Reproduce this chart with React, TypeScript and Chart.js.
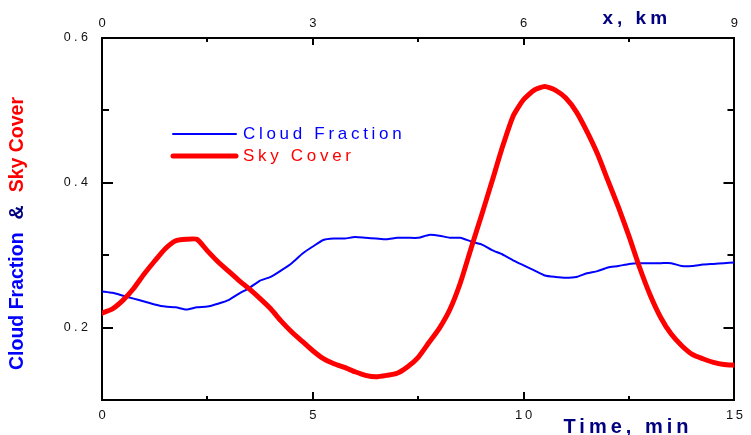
import React, { useEffect, useRef } from "react";
import { Chart, registerables } from "chart.js";

Chart.register(...registerables);

// Sampling grid for both series, minutes
const timeMin = [
  0, 0.25, 0.5, 0.75, 1, 1.25, 1.5, 1.75, 2, 2.25, 2.5, 2.75, 3, 3.25, 3.5, 3.75,
  4, 4.25, 4.5, 4.75, 5, 5.25, 5.5, 5.75, 6, 6.25, 6.5, 6.75, 7, 7.25, 7.5, 7.75,
  8, 8.25, 8.5, 8.75, 9, 9.25, 9.5, 9.75, 10, 10.25, 10.5, 10.75, 11, 11.25, 11.5, 11.75,
  12, 12.25, 12.5, 12.75, 13, 13.25, 13.5, 13.75, 14, 14.25, 14.5, 14.75, 15,
];

const cloudFraction = [
  0.250, 0.248, 0.244, 0.240, 0.236, 0.232, 0.229, 0.228, 0.225, 0.228, 0.229, 0.233, 0.238, 0.247, 0.255, 0.265,
  0.270, 0.279, 0.289, 0.302, 0.312, 0.321, 0.323, 0.323, 0.325, 0.324, 0.323, 0.322, 0.324, 0.324, 0.324, 0.328,
  0.327, 0.324, 0.324, 0.319, 0.315, 0.307, 0.301, 0.293, 0.286, 0.279, 0.272, 0.270, 0.269, 0.270, 0.275, 0.278,
  0.283, 0.285, 0.288, 0.289, 0.289, 0.289, 0.289, 0.285, 0.285, 0.287, 0.288, 0.289, 0.290,
];

const skyCover = [
  0.220, 0.226, 0.238, 0.254, 0.274, 0.292, 0.309, 0.320, 0.322, 0.322, 0.306, 0.291, 0.278, 0.265, 0.253, 0.240,
  0.226, 0.209, 0.194, 0.181, 0.168, 0.157, 0.150, 0.145, 0.139, 0.134, 0.132, 0.134, 0.137, 0.146, 0.159, 0.179,
  0.199, 0.225, 0.262, 0.309, 0.355, 0.402, 0.450, 0.492, 0.515, 0.528, 0.533, 0.528, 0.517, 0.498, 0.471, 0.440,
  0.403, 0.366, 0.326, 0.283, 0.245, 0.214, 0.191, 0.175, 0.163, 0.157, 0.152, 0.149, 0.148,
];

// Axis ticks and their labels
const yTickValues = [0.2, 0.4, 0.6];
const yTickLabels = ["0 . 2", "0 . 4", "0 . 6"];
const yMinorTicks = [0.3, 0.5];
const timeTickValues = [0, 5, 10, 15];
const timeTickLabels = ["0", "5", "1\u20090", "1\u20095"];
const timeMinorTicks = [2.5, 7.5, 12.5];
const kmTickValues = [0, 3, 6, 9];
const kmTickLabels = ["0", "3", "6", "9"];
const kmMinorTicks = [1.5, 4.5, 7.5];

const seriesNames = ["Cloud Fraction", "Sky Cover"];

const FONT = "Arial, 'Liberation Sans', Helvetica, sans-serif";
const NAVY = "#000080";
const BLUE = "#0000ff";
const RED = "#ff0000";

const toPoints = (ys: number[]) => ys.map((y, i) => ({ x: timeMin[i], y }));

function labelFor(values: number[], labels: string[]) {
  return (v: number | string) => {
    const i = values.findIndex((t) => Math.abs(t - Number(v)) < 1e-9);
    return i >= 0 ? labels[i] : "";
  };
}

function fixTicks(values: number[]) {
  return (scale: any) => {
    scale.ticks = values.map((value) => ({ value }));
  };
}

// Inward-pointing tick marks on all four sides of the frame
const frameTicks = {
  id: "frameTicks",
  afterDatasetsDraw(chart: any) {
    const { ctx, chartArea, scales } = chart;
    const { left, right, top, bottom } = chartArea;
    ctx.save();
    ctx.strokeStyle = "#000";
    ctx.lineWidth = 2;
    const seg = (x1: number, y1: number, x2: number, y2: number) => {
      ctx.beginPath();
      ctx.moveTo(x1, y1);
      ctx.lineTo(x2, y2);
      ctx.stroke();
    };
    const yMarks: [number[], number][] = [
      [yTickValues, 11],
      [yMinorTicks, 7],
    ];
    for (const [vals, len] of yMarks) {
      for (const v of vals) {
        const py = Math.round(scales.y.getPixelForValue(v));
        seg(left, py, left + len, py);
        seg(right, py, right - len, py);
      }
    }
    for (const v of timeTickValues.concat(timeMinorTicks)) {
      const px = Math.round(scales.x.getPixelForValue(v));
      const len = timeMinorTicks.includes(v) ? 4 : 8;
      seg(px, bottom, px, bottom - len);
    }
    for (const v of kmTickValues.concat(kmMinorTicks)) {
      const px = Math.round(scales.x2.getPixelForValue(v));
      const len = kmMinorTicks.includes(v) ? 4 : 7;
      seg(px, top, px, top + len);
    }
    ctx.restore();
  },
};

// Axis titles and the in-plot legend
const annotations = {
  id: "annotations",
  afterDraw(chart: any) {
    const { ctx, chartArea } = chart;
    const { left, right, top, bottom } = chartArea;
    ctx.save();

    // bottom axis title
    ctx.letterSpacing = "4px";
    ctx.font = `bold 20px ${FONT}`;
    ctx.fillStyle = NAVY;
    ctx.textAlign = "left";
    ctx.textBaseline = "alphabetic";
    ctx.fillText("Time, min", right - 171, bottom + 33);

    // top axis title
    ctx.font = `bold 19px ${FONT}`;
    ctx.fillText("x, km", right - 132, top - 14);

    // left axis title, rotated, in three colours
    ctx.letterSpacing = "0px";
    ctx.save();
    ctx.translate(18, bottom - 30);
    ctx.rotate(-Math.PI / 2);
    ctx.textBaseline = "middle";
    ctx.font = `bold 19.5px ${FONT}`;
    const parts: [string, string][] = [
      ["Cloud Fraction", BLUE],
      ["&", NAVY],
      ["Sky Cover", RED],
    ];
    let pos = 0;
    for (const [text, color] of parts) {
      ctx.fillStyle = color;
      ctx.fillText(text, pos, 0);
      pos += ctx.measureText(text).width + 13;
    }
    ctx.restore();

    // legend
    const ds = chart.data.datasets;
    const rows = [
      { y: top + 96, ds: ds[0] },
      { y: top + 118, ds: ds[1] },
    ];
    ctx.font = `17px ${FONT}`;
    ctx.letterSpacing = "3.7px";
    ctx.textBaseline = "middle";
    ctx.lineCap = "round";
    for (const row of rows) {
      ctx.strokeStyle = row.ds.borderColor;
      ctx.lineWidth = row.ds.borderWidth;
      ctx.beginPath();
      ctx.moveTo(left + 71, row.y);
      ctx.lineTo(left + 134, row.y);
      ctx.stroke();
      ctx.fillStyle = row.ds.borderColor;
      ctx.fillText(row.ds.label, left + 141, row.y);
    }
    ctx.restore();
  },
};

export default function App() {
  const canvasRef = useRef<HTMLCanvasElement | null>(null);

  useEffect(() => {
    const canvas = canvasRef.current;
    if (!canvas) return;
    const axisBorder = { display: true, color: "#000", width: 2 };
    const noGrid = { display: false, drawTicks: false };
    const chart = new Chart(canvas, {
      type: "line",
      data: {
        datasets: [
          {
            label: seriesNames[0],
            data: toPoints(cloudFraction),
            borderColor: BLUE,
            borderWidth: 2,
            pointRadius: 0,
            tension: 0.2,
            order: 1,
            xAxisID: "x",
            yAxisID: "y",
          },
          {
            label: seriesNames[1],
            data: toPoints(skyCover),
            borderColor: RED,
            borderWidth: 5,
            borderCapStyle: "round",
            borderJoinStyle: "round",
            pointRadius: 0,
            tension: 0.2,
            order: 0,
            xAxisID: "x",
            yAxisID: "y",
          },
        ],
      },
      options: {
        responsive: false,
        animation: false,
        devicePixelRatio: 1,
        layout: { padding: 0 },
        plugins: {
          legend: { display: false },
          tooltip: { enabled: false },
        },
        scales: {
          x: {
            type: "linear",
            position: "bottom",
            min: 0,
            max: 15,
            grid: noGrid,
            border: axisBorder,
            afterBuildTicks: fixTicks(timeTickValues),
            afterFit: (s: any) => {
              s.height = 35;
            },
            ticks: {
              padding: 8,
              color: "#111",
              font: { family: FONT, size: 13 },
              maxRotation: 0,
              callback: labelFor(timeTickValues, timeTickLabels),
            },
          },
          x2: {
            type: "linear",
            position: "top",
            min: 0,
            max: 9,
            grid: noGrid,
            border: axisBorder,
            afterBuildTicks: fixTicks(kmTickValues),
            afterFit: (s: any) => {
              s.height = 38;
            },
            ticks: {
              padding: 7,
              color: "#111",
              font: { family: FONT, size: 13 },
              maxRotation: 0,
              callback: labelFor(kmTickValues, kmTickLabels),
            },
          },
          y: {
            type: "linear",
            position: "left",
            min: 0.1,
            max: 0.6,
            grid: noGrid,
            border: axisBorder,
            afterBuildTicks: fixTicks(yTickValues),
            afterFit: (s: any) => {
              s.width = 102;
            },
            ticks: {
              padding: 14,
              color: "#111",
              font: { family: FONT, size: 12.5 },
              callback: labelFor(yTickValues, yTickLabels),
            },
          },
          y2: {
            type: "linear",
            position: "right",
            min: 0.1,
            max: 0.6,
            grid: noGrid,
            border: axisBorder,
            ticks: { display: false },
            afterFit: (s: any) => {
              s.width = 13;
            },
          },
        },
      },
      plugins: [frameTicks, annotations],
    } as any);
    return () => chart.destroy();
  }, []);

  return (
    <div style={{ position: "absolute", left: 0, top: 0, width: 751, height: 435, background: "#fff" }}>
      <canvas ref={canvasRef} width={751} height={435} />
    </div>
  );
}
